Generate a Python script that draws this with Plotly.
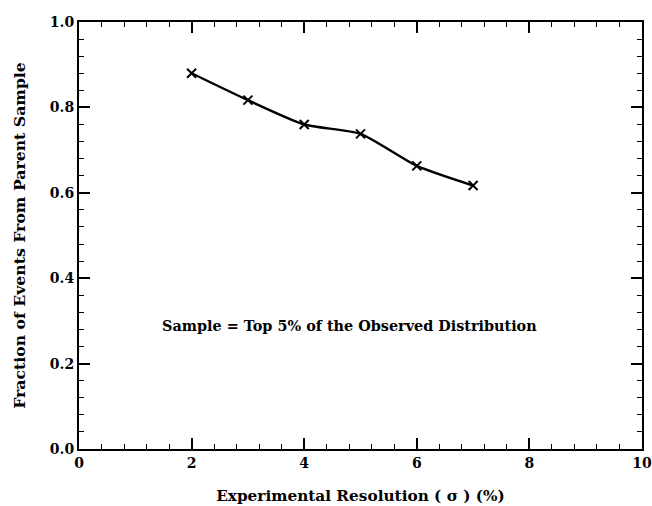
import plotly.graph_objects as go

resolution = [2, 3, 4, 5, 6, 7]
fraction = [0.880, 0.817, 0.760, 0.738, 0.663, 0.617]
x_ticks = [0, 2, 4, 6, 8, 10]
y_ticks = [0.0, 0.2, 0.4, 0.6, 0.8, 1.0]
note = "Sample = Top 5% of the Observed Distribution"

FONT = "DejaVu Serif"

fig = go.Figure()
fig.add_trace(go.Scatter(
    x=resolution, y=fraction, mode="lines+markers",
    line=dict(color="black", width=2.4, shape="spline", smoothing=0.6),
    marker=dict(symbol="x-thin", size=9, color="black",
                line=dict(color="black", width=2)),
    showlegend=False,
))

fig.add_annotation(x=4.8, y=0.29, text="<b>" + note + "</b>", showarrow=False,
                   font=dict(family=FONT, size=14.4, color="black"))

axis_common = dict(
    showgrid=False, zeroline=False, showline=True, linecolor="black", linewidth=2,
    mirror="ticks", ticks="inside", ticklen=11, tickwidth=1.8, tickcolor="black",
    tickfont=dict(family=FONT, size=14, color="black", weight="bold"),
    automargin=False, ticklabeloverflow="allow",
)

fig.update_xaxes(range=[0, 10], tickvals=x_ticks, ticktext=[str(v) for v in x_ticks],
                 minor=dict(dtick=0.4, ticks="inside", ticklen=5, tickwidth=1.2, tickcolor="black"),
                 title=dict(text="<b>Experimental Resolution ( σ ) (%)</b>",
                            font=dict(family=FONT, size=15.3, color="black"), standoff=20),
                 **axis_common)
fig.update_yaxes(range=[0, 1.0], tickvals=y_ticks, ticktext=[f"{v:.1f}" for v in y_ticks],
                 minor=dict(dtick=0.04, ticks="inside", ticklen=5, tickwidth=1.2, tickcolor="black"),
                 title=dict(text="<b>Fraction of Events From Parent Sample</b>",
                            font=dict(family=FONT, size=15.7, color="black"), standoff=20),
                 **axis_common)

fig.update_layout(
    width=652, height=506,
    margin=dict(l=79, r=10, t=22, b=57),
    plot_bgcolor="white", paper_bgcolor="white",
)

fig.write_html("out.html")
